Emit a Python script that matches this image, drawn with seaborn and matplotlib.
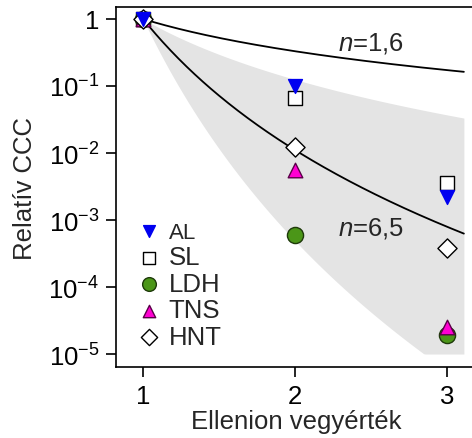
import numpy as np
import pandas as pd
import matplotlib
matplotlib.use("Agg")
import matplotlib.pyplot as plt
import seaborn as sns

# valence of counter-ion and relative CCC values per sample
valence = [1, 2, 3]
series = ["AL", "SL", "LDH", "TNS", "HNT"]
ccc_AL = [1.0, 0.10, 2.2e-3]
ccc_SL = [1.0, 0.066, 3.6e-3]
ccc_LDH = [1.0, 6.0e-4, 1.9e-5]
ccc_TNS = [1.0, 5.6e-3, 2.5e-5]
ccc_HNT = [1.0, 1.24e-2, 3.8e-4]

# Schulze-Hardy exponents: fitted lines and shaded band
n_fits = [1.6, 6.5]
band_n = [3.0, 11.0]
band_floor = 1e-5
x_end = 3.11

sns.set_theme(style="ticks")
plt.rcParams["font.family"] = ["Liberation Sans", "DejaVu Sans"]
plt.rcParams["mathtext.fontset"] = "custom"
plt.rcParams["mathtext.rm"] = "Liberation Sans"
plt.rcParams["mathtext.it"] = "Liberation Sans:italic"

df = pd.DataFrame({
    "valence": valence * 5,
    "ccc": ccc_AL + ccc_SL + ccc_LDH + ccc_TNS + ccc_HNT,
    "minta": np.repeat(series, 3),
})

styles = {
    "AL": dict(marker="v", color="#0000f0", edgecolor="#0000f0", s=100, z=7),
    "SL": dict(marker="s", color="white", edgecolor="black", s=105, z=3),
    "LDH": dict(marker="o", color="#4b9618", edgecolor="#1e3a0a", s=135, z=4),
    "TNS": dict(marker="^", color="#ff00d2", edgecolor="#5a0048", s=110, z=5),
    "HNT": dict(marker="D", color="white", edgecolor="black", s=95, z=6),
}

fs = 18.5

fig = plt.figure(figsize=(4.72, 4.39), dpi=100)
ax = fig.add_axes([0.2458, 0.1617, 0.765, 0.8201])

xx = np.linspace(1, x_end, 200)
upper = xx ** (-band_n[0])
lower = np.maximum(xx ** (-band_n[1]), band_floor)
ax.fill_between(xx, lower, upper, color="#e4e4e4", lw=0, zorder=1)
for n in n_fits:
    sns.lineplot(x=xx, y=xx ** (-n), color="black", lw=1.3, ax=ax, zorder=2)

for name in series:
    st = styles[name]
    sub = df[df["minta"] == name]
    sns.scatterplot(data=sub, x="valence", y="ccc", marker=st["marker"],
                    color=st["color"], edgecolor=st["edgecolor"], linewidth=1,
                    s=st["s"], zorder=st["z"], ax=ax, label=name)

ax.set_yscale("log")
ax.set_xlim(0.822, 3.197)
ax.set_ylim(6.4e-6, 1.51)
ax.set_xticks([1, 2, 3])
ax.set_xticklabels(["1", "2", "3"])
ax.set_yticks([1, 1e-1, 1e-2, 1e-3, 1e-4, 1e-5])
ax.set_yticklabels(["1", "$\\mathregular{10^{-1}}$", "$\\mathregular{10^{-2}}$",
                    "$\\mathregular{10^{-3}}$", "$\\mathregular{10^{-4}}$",
                    "$\\mathregular{10^{-5}}$"])
ax.minorticks_off()
ax.tick_params(axis="both", direction="out", length=7, width=1.2,
               labelsize=fs, colors="black", pad=5)
for sp in ax.spines.values():
    sp.set_linewidth(1.2)
    sp.set_color("black")

ax.set_xlabel("Ellenion vegyérték", fontsize=fs, labelpad=1)
ax.set_ylabel("Relatív CCC", fontsize=fs, labelpad=8)

ax.text(2.28, 0.45, "$\\mathit{n}$=1,6", fontsize=fs, ha="left", va="center")
ax.text(2.28, 7.6e-4, "$\\mathit{n}$=6,5", fontsize=fs, ha="left", va="center")

leg = ax.legend(loc="lower left", bbox_to_anchor=(0.0, 0.0), frameon=False,
                fontsize=fs, markerscale=0.85, handletextpad=0.15,
                labelspacing=0.1, borderaxespad=0.3, handlelength=1.2)
leg.get_texts()[0].set_fontsize(16)

fig.savefig("out.png", dpi=100)
